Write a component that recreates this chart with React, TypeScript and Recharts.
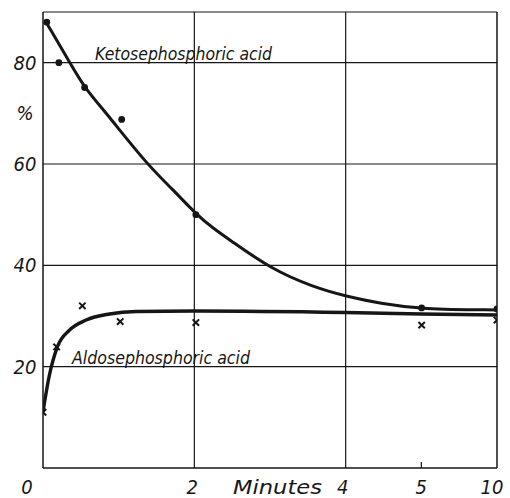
import { ComposedChart, Line, Scatter, XAxis, YAxis, ReferenceLine } from "recharts";

// Ketose / aldose phosphoric acid over time — scanned figure.
const minutesTicks = [0, 2, 4, 5, 10];
const percentTicks = [20, 40, 60, 70, 80];

// measured points (dots = ketose, crosses = aldose)
const ketoseTime = [0.05, 0.21, 0.55, 1.04, 2.02, 5.02, 10];
const ketoseValue = [88, 80, 75.1, 68.8, 50, 31.6, 31.4];
const aldoseTime = [0, 0.18, 0.52, 1.02, 2.02, 5.02, 10];
const aldoseValue = [11, 23.9, 32, 28.9, 28.7, 28.2, 29.2];

// hand-drawn fitted curves
const ketoseCurveTime = [0.06, 0.36, 0.55, 0.84, 1.37, 1.72, 2.03, 2.25, 2.47, 3.0, 3.57, 4.03, 4.45, 5.02, 10];
const ketoseCurveValue = [87.5, 79.9, 75, 70, 60, 54.9, 50, 47.3, 45, 39.4, 35.7, 33.8, 32.5, 31.3, 31.2];
const aldoseCurveTime = [0, 0.08, 0.19, 0.35, 0.57, 0.88, 1.23, 2, 4, 5, 10];
const aldoseCurveValue = [11.1, 18, 23.9, 27.2, 29.2, 30.4, 30.9, 31, 30.7, 30.4, 30.2];

const INK = "#161616";
const FONT = "'Liberation Sans Narrow', 'DejaVu Sans Condensed', 'DejaVu Sans', sans-serif";

// time axis is linear up to 5 min, then 5–10 min is squeezed into one unit
const axisPos = (m: number) => (m <= 5 ? m : 5 + (m - 5) / 5);
const axisMinutes = (t: number) => (t <= 5 ? t : Math.round(5 + (t - 5) * 5));

const zip = (ts: number[], vs: number[]) => ts.map((m, i) => ({ t: axisPos(m), v: vs[i] }));

const ketoseCurve = zip(ketoseCurveTime, ketoseCurveValue);
const aldoseCurve = zip(aldoseCurveTime, aldoseCurveValue);
const ketosePts = zip(ketoseTime, ketoseValue);
const aldosePts = zip(aldoseTime, aldoseValue);

const xNudge: Record<number, number> = { 0: -16, 2: -2, 4: -3, 5: 0, 10: -5 };

function XTick(props: any) {
  const m = axisMinutes(props.payload.value);
  return (
    <text
      x={props.x + (xNudge[m] ?? 0)}
      y={494}
      textAnchor="middle"
      fontFamily={FONT}
      fontStyle="italic"
      fontSize={20}
      fill={INK}
    >
      {m}
    </text>
  );
}

function YTick(props: any) {
  const v = props.payload.value;
  return (
    <text x={25} y={props.y + 7} textAnchor="middle" fontFamily={FONT} fontStyle="italic" fontSize={20} fill={INK}>
      {v === 70 ? "%" : v}
    </text>
  );
}

const DotMark = (p: any) => <circle cx={p.cx} cy={p.cy} r={3.4} fill={INK} />;
const CrossMark = (p: any) => (
  <g stroke={INK} strokeWidth={2}>
    <line x1={p.cx - 3.2} y1={p.cy - 3.2} x2={p.cx + 3.2} y2={p.cy + 3.2} />
    <line x1={p.cx - 3.2} y1={p.cy + 3.2} x2={p.cx + 3.2} y2={p.cy - 3.2} />
  </g>
);

export default function App() {
  const grid = { stroke: INK, strokeWidth: 1.2 };
  return (
    <div style={{ position: "absolute", left: 0, top: 0, width: 510, height: 498, background: "#fff" }}>
      <ComposedChart width={510} height={498} margin={{ top: 12, right: 13, bottom: 0, left: 0 }}>
        <XAxis
          type="number"
          dataKey="t"
          domain={[0, 6]}
          ticks={minutesTicks.map(axisPos)}
          tick={<XTick />}
          tickLine={false}
          axisLine={{ stroke: INK, strokeWidth: 1.5 }}
          height={30}
          allowDataOverflow
        />
        <YAxis
          type="number"
          dataKey="v"
          domain={[0, 90]}
          ticks={percentTicks}
          tick={<YTick />}
          tickLine={false}
          axisLine={{ stroke: INK, strokeWidth: 1.5 }}
          width={43}
          allowDataOverflow
        />
        {[20, 40, 60, 80].map((y) => (
          <ReferenceLine key={y} y={y} {...grid} />
        ))}
        <ReferenceLine y={90} {...grid} />
        <ReferenceLine x={axisPos(2)} {...grid} />
        <ReferenceLine x={axisPos(4)} {...grid} />
        <ReferenceLine x={axisPos(10)} stroke={INK} strokeWidth={1.5} />
        <ReferenceLine segment={[{ x: 5, y: 0 }, { x: 5, y: 1.2 }]} {...grid} />

        <Line
          data={ketoseCurve}
          dataKey="v"
          type="basis"
          stroke={INK}
          strokeWidth={3}
          dot={false}
          isAnimationActive={false}
        />
        <Line
          data={aldoseCurve}
          dataKey="v"
          type="monotone"
          stroke={INK}
          strokeWidth={3.4}
          dot={false}
          isAnimationActive={false}
        />
        <Scatter data={ketosePts} dataKey="v" shape={DotMark} isAnimationActive={false} />
        <Scatter data={aldosePts} dataKey="v" shape={CrossMark} isAnimationActive={false} />
      </ComposedChart>

      <svg width={510} height={498} style={{ position: "absolute", left: 0, top: 0, pointerEvents: "none" }}>
        <g fontFamily={FONT} fontStyle="italic" fill={INK}>
          <text x={95} y={60} fontSize={18} textLength={177} lengthAdjust="spacingAndGlyphs">
            Ketosephosphoric acid
          </text>
          <text x={72} y={364} fontSize={18} textLength={178} lengthAdjust="spacingAndGlyphs">
            Aldosephosphoric acid
          </text>
          <text x={233} y={494} fontSize={20} textLength={89} lengthAdjust="spacingAndGlyphs">
            Minutes
          </text>
        </g>
      </svg>
    </div>
  );
}
